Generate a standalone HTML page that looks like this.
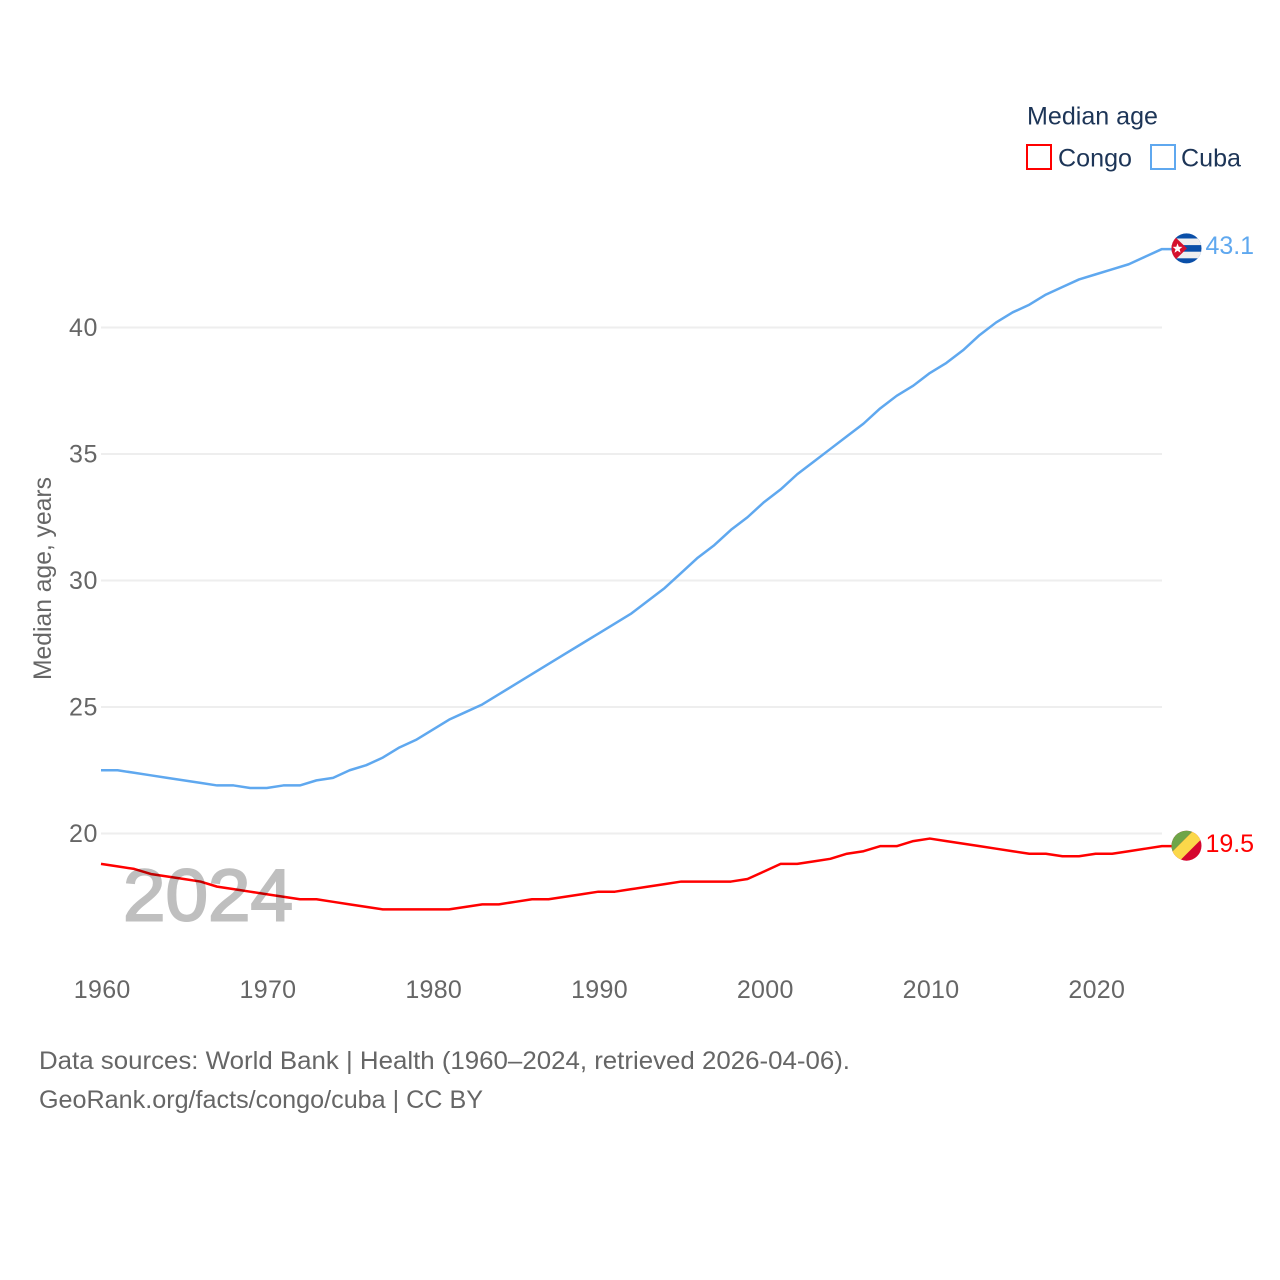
<!DOCTYPE html>
<html lang="en">
<head>
<meta charset="utf-8">
<title>Median age: Congo and Cuba</title>
<style>
html,body{margin:0;padding:0;background:#fff;width:1280px;height:1280px;overflow:hidden}
svg{display:block}
text{font-family:"Liberation Sans",sans-serif;font-size:25px;fill:#666}
.legend{fill:#1d3557}
</style>
</head>
<body>
<svg id="chart" width="1280" height="1280" viewBox="0 0 1280 1280" xmlns="http://www.w3.org/2000/svg">
  <defs>
    <clipPath id="flag-clip-cuba"><circle cx="1186.5" cy="248.4" r="15"/></clipPath>
    <clipPath id="flag-clip-congo"><circle cx="1186.5" cy="845.7" r="15"/></clipPath>
  </defs>
  <g id="grid"></g>
  <g id="y-ticks"></g>
  <g id="x-ticks"></g>
  <text transform="translate(51 680) rotate(-90)" textLength="203" lengthAdjust="spacingAndGlyphs">Median age, years</text>
  <g id="series"></g>
  <text x="123" y="920.5" textLength="170" lengthAdjust="spacingAndGlyphs" style="font-size:73px;fill:#bfbfbf;stroke:#bfbfbf;stroke-width:2px;mix-blend-mode:multiply">2024</text>

  <g clip-path="url(#flag-clip-cuba)">
    <rect x="1171" y="233" width="31" height="31" fill="#0a4fa8"/>
    <rect x="1171" y="238.5" width="31" height="6.6" fill="#efefef"/>
    <rect x="1171" y="251.7" width="31" height="6.6" fill="#efefef"/>
    <path d="M1171 233 L1187 248.4 L1171 264 Z" fill="#d5112e"/>
    <path d="M1177.5 243.4 l1.3 3.4 3.6 .1 -2.8 2.3 1 3.5 -3.1 -2 -3 2 1 -3.5 -2.8 -2.3 3.6 -.1 Z" fill="#fff"/>
  </g>
  <g clip-path="url(#flag-clip-congo)">
    <rect x="1171" y="830" width="31" height="32" fill="#d5062e"/>
    <path d="M1171 830 H1194 L1171 853 Z" fill="#6ea548"/>
    <path d="M1194 830 H1202 V838.5 L1178.5 862 H1171 V853 Z" fill="#fbd84a"/>
  </g>
  <text id="label-cuba" x="1205.5" y="254" textLength="48.5" style="fill:#5fa8ef">43.1</text>
  <text id="label-congo" x="1205.5" y="852" textLength="48.5" style="fill:#f00">19.5</text>

  <g>
    <text class="legend" x="1027" y="124.5" textLength="131" lengthAdjust="spacingAndGlyphs">Median age</text>
    <g>
      <rect x="1027" y="145" width="24" height="24" fill="none" stroke="#f00" stroke-width="2"/>
      <text class="legend" x="1058" y="166.5" textLength="74" lengthAdjust="spacingAndGlyphs">Congo</text>
    </g>
    <g>
      <rect x="1151" y="145" width="24" height="24" fill="none" stroke="#5fa8ef" stroke-width="2"/>
      <text class="legend" x="1181" y="166.5" textLength="60" lengthAdjust="spacingAndGlyphs">Cuba</text>
    </g>
  </g>

  <text x="39" y="1069" textLength="811" lengthAdjust="spacingAndGlyphs">Data sources: World Bank | Health (1960–2024, retrieved 2026-04-06).</text>
  <text x="39" y="1108" textLength="444" lengthAdjust="spacingAndGlyphs">GeoRank.org/facts/congo/cuba | CC BY</text>
</svg>
<script>
const startYear = 1960;
const xTickLabels = [1960, 1970, 1980, 1990, 2000, 2010, 2020];
const yTickLabels = [20, 25, 30, 35, 40];
const cubaValues = [22.5,22.5,22.4,22.3,22.2,22.1,22.0,21.9,21.9,21.8,21.8,21.9,21.9,22.1,22.2,22.5,22.7,23.0,23.4,23.7,24.1,24.5,24.8,25.1,25.5,25.9,26.3,26.7,27.1,27.5,27.9,28.3,28.7,29.2,29.7,30.3,30.9,31.4,32.0,32.5,33.1,33.6,34.2,34.7,35.2,35.7,36.2,36.8,37.3,37.7,38.2,38.6,39.1,39.7,40.2,40.6,40.9,41.3,41.6,41.9,42.1,42.3,42.5,42.8,43.1];
const congoValues = [18.8,18.7,18.6,18.4,18.3,18.2,18.1,17.9,17.8,17.7,17.6,17.5,17.4,17.4,17.3,17.2,17.1,17.0,17.0,17.0,17.0,17.0,17.1,17.2,17.2,17.3,17.4,17.4,17.5,17.6,17.7,17.7,17.8,17.9,18.0,18.1,18.1,18.1,18.1,18.2,18.5,18.8,18.8,18.9,19.0,19.2,19.3,19.5,19.5,19.7,19.8,19.7,19.6,19.5,19.4,19.3,19.2,19.2,19.1,19.1,19.2,19.2,19.3,19.4,19.5];

const NS = 'http://www.w3.org/2000/svg';
const xScale = function (year) { return 101 + (year - 1960) * (1095.6 - 101) / 60; };
const yScale = function (v) { return 833.5 - (v - 20) * (833.5 - 327.5) / 20; };

const gridGroup = document.getElementById('grid');
const yTickGroup = document.getElementById('y-ticks');
const xTickGroup = document.getElementById('x-ticks');
const seriesGroup = document.getElementById('series');

yTickLabels.forEach(function (v) {
  const line = document.createElementNS(NS, 'line');
  
  
  line.setAttribute('x1', 101);
  line.setAttribute('x2', 1162);
  line.setAttribute('y1', yScale(v));
  line.setAttribute('y2', yScale(v));
  line.setAttribute('stroke', '#eeeeee');
  line.setAttribute('stroke-width', 2);
  gridGroup.appendChild(line);

  const label = document.createElementNS(NS, 'text');
  
  
  label.setAttribute('x', 98);
  label.setAttribute('y', yScale(v) + 8.5);
  label.setAttribute('text-anchor', 'end');
  label.setAttribute('style', 'letter-spacing:.6px');
  label.textContent = v;
  yTickGroup.appendChild(label);
});

xTickLabels.forEach(function (year) {
  const label = document.createElementNS(NS, 'text');
  
  
  label.setAttribute('x', xScale(year) + 1.2);
  label.setAttribute('y', 998);
  label.setAttribute('text-anchor', 'middle');
  label.setAttribute('style', 'letter-spacing:.3px');
  label.textContent = year;
  xTickGroup.appendChild(label);
});

function buildPoints(values) {
  const pts = values.map(function (v, i) {
    return xScale(startYear + i).toFixed(2) + ',' + yScale(v).toFixed(2);
  });
  pts.push('1172,' + yScale(values[values.length - 1]).toFixed(2));
  return pts.join(' ');
}

const cubaLine = document.createElementNS(NS, 'polyline');


cubaLine.setAttribute('points', buildPoints(cubaValues));
cubaLine.setAttribute('fill', 'none');
cubaLine.setAttribute('stroke', '#5fa8ef');
cubaLine.setAttribute('stroke-width', 2.5);
cubaLine.setAttribute('stroke-linejoin', 'round');
seriesGroup.appendChild(cubaLine);

const congoLine = document.createElementNS(NS, 'polyline');


congoLine.setAttribute('points', buildPoints(congoValues));
congoLine.setAttribute('fill', 'none');
congoLine.setAttribute('stroke', '#ff0000');
congoLine.setAttribute('stroke-width', 2.5);
congoLine.setAttribute('stroke-linejoin', 'round');
seriesGroup.appendChild(congoLine);

document.getElementById('label-cuba').textContent = cubaValues[cubaValues.length - 1].toFixed(1);
document.getElementById('label-congo').textContent = congoValues[congoValues.length - 1].toFixed(1);
</script>
</body>
</html>
